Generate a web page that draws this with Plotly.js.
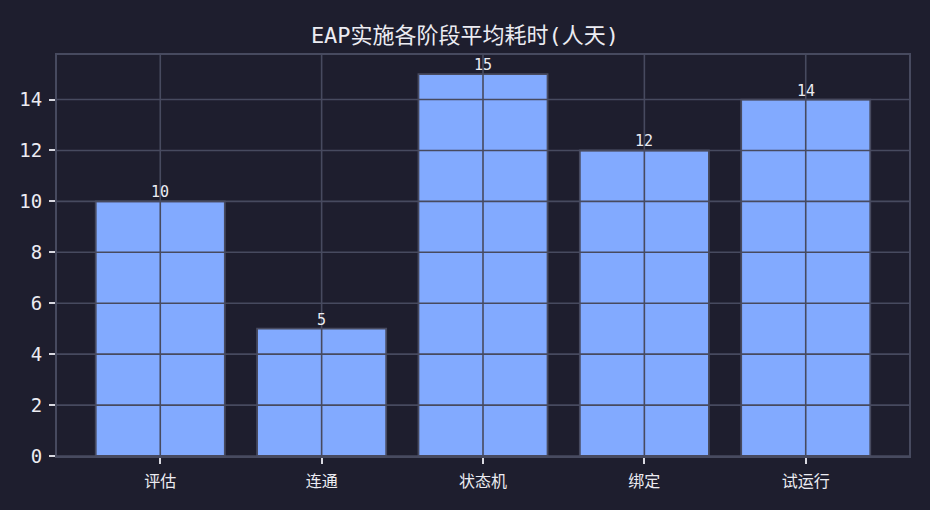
<!DOCTYPE html>
<html>
<head>
<meta charset="utf-8">
<script src="https://cdn.plot.ly/plotly-3.0.1.min.js"></script>
<style>
  html, body { margin: 0; padding: 0; background: #1e1e2e; }
  #chart { width: 930px; height: 510px; }
</style>
</head>
<body>
<div id="chart"></div>
<script>
const stages = ['评估', '连通', '状态机', '绑定', '试运行'];
const days = [10, 5, 15, 12, 14];
const yTicks = [0, 2, 4, 6, 8, 10, 12, 14];

const font = '"DejaVu Sans Mono", "Noto Sans CJK SC", monospace';
const gridColor = '#474a5f';
const textColor = '#ececf2';
const xIdx = stages.map((_, i) => i);

const trace = {
  x: xIdx,
  y: days,
  type: 'bar',
  width: 0.8,
  hoverinfo: 'skip',
  marker: {
    color: '#82aaff',
    line: { color: gridColor, width: 1.8 },
  },
};

// value labels sitting right on top of each bar
const labels = days.map((v, i) => ({
  x: xIdx[i],
  y: v,
  xref: 'x',
  yref: 'y',
  text: String(v),
  showarrow: false,
  yanchor: 'bottom',
  yshift: -2,
  font: { family: font, size: 15, color: textColor },
}));

// matplotlib style: grid drawn on top of the bars
const gridLine = { color: gridColor, width: 1.6 };
const gridShapes = [
  ...xIdx.map((v) => ({
    type: 'line', layer: 'above', xref: 'x', yref: 'paper',
    x0: v, x1: v, y0: 0, y1: 1, line: gridLine,
  })),
  ...yTicks.map((v) => ({
    type: 'line', layer: 'above', xref: 'paper', yref: 'y',
    x0: 0, x1: 1, y0: v, y1: v, line: gridLine,
  })),
];

const axisBase = {
  ticks: 'outside',
  ticklen: 6,
  tickwidth: 2,
  tickcolor: '#d8d8e0',
  showgrid: false,
  showline: true,
  linecolor: gridColor,
  linewidth: 2,
  mirror: true,
  zeroline: false,
  fixedrange: true,
  layer: 'above traces',
};

const layout = {
  width: 930,
  height: 510,
  paper_bgcolor: '#1e1e2e',
  plot_bgcolor: '#1e1e2e',
  font: { family: font, color: textColor },
  title: {
    text: 'EAP实施各阶段平均耗时(人天)',
    font: { family: font, size: 22, color: textColor },
    x: 0.5,
    xanchor: 'center',
    y: 0.93,
    yanchor: 'middle',
  },
  showlegend: false,
  xaxis: {
    ...axisBase,
    range: [-0.64, 4.64],
    tickvals: xIdx,
    ticktext: stages,
    tickfont: { size: 16, color: textColor },
    ticklabelstandoff: 4,
  },
  yaxis: {
    ...axisBase,
    range: [0, 15.75],
    tickvals: yTicks,
    tickfont: { size: 19, color: textColor },
    ticklabelstandoff: 3,
  },
  shapes: gridShapes,
  annotations: labels,
  margin: { l: 57, r: 21, t: 55, b: 54 },
};

Plotly.newPlot('chart', [trace], layout, { displayModeBar: false, staticPlot: true });
</script>
</body>
</html>
